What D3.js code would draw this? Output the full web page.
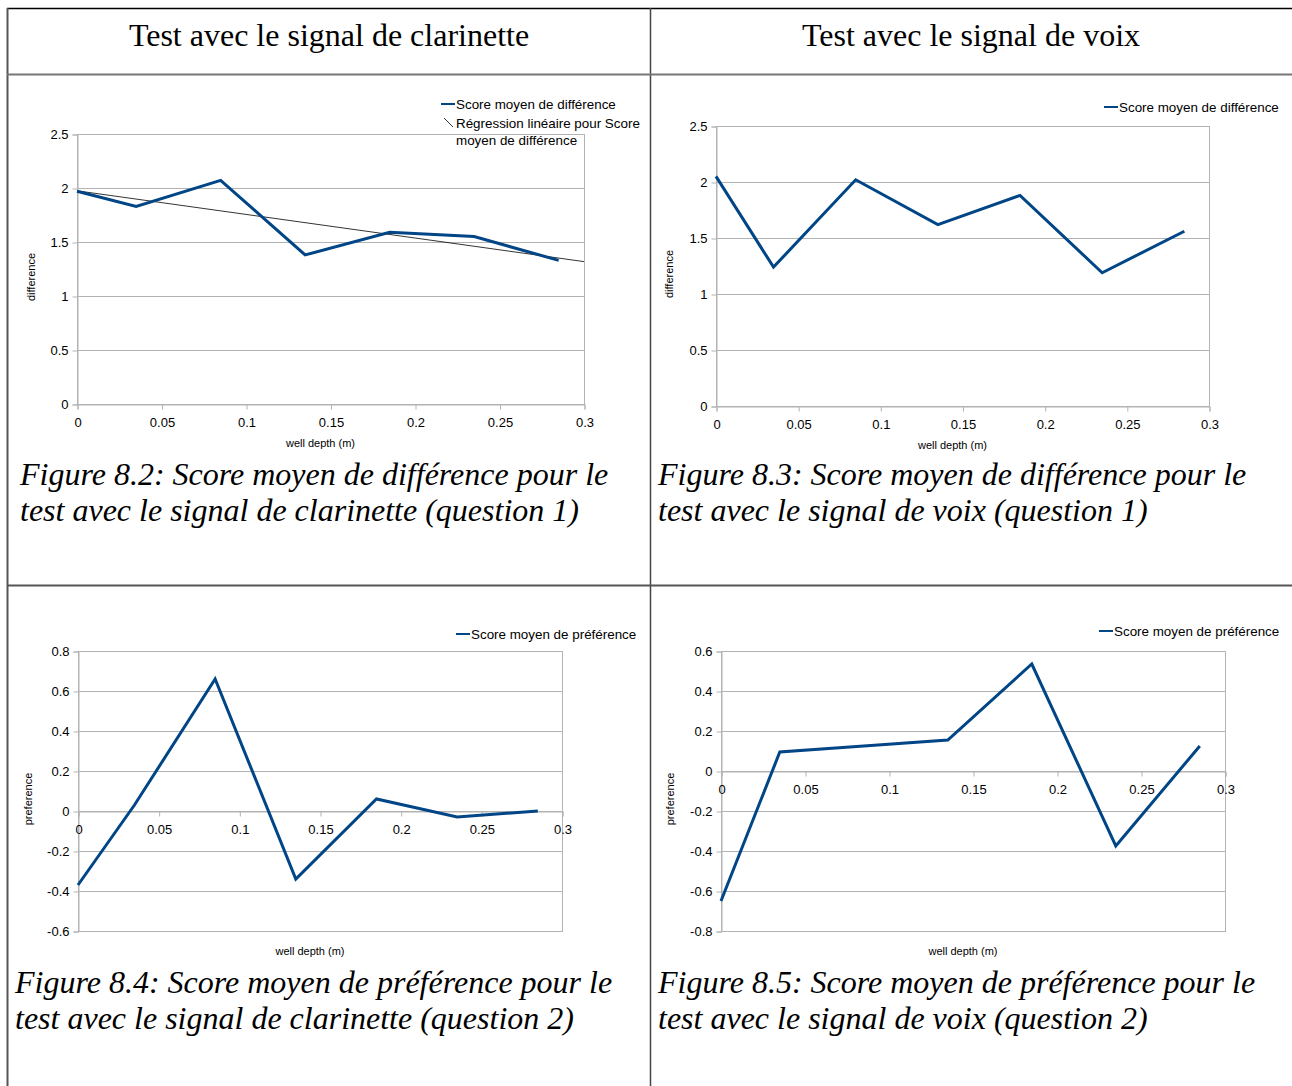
<!DOCTYPE html>
<html>
<head>
<meta charset="utf-8">
<script src="https://cdn.jsdelivr.net/npm/d3@7"></script>
<style>
  body { margin: 0; background: #fff; }
  text { font-family: "Liberation Sans", Arial, sans-serif; }
  .serif { font-family: "Liberation Serif", "Times New Roman", serif; }
</style>
</head>
<body>
<svg id="page" width="1292" height="1086"></svg>
<script>
// well depth (m) of each test condition
var depths = [0, 0.035, 0.085, 0.135, 0.185, 0.235, 0.285];

// mean scores
var diffClarinette = [1.97, 1.83, 2.07, 1.38, 1.59, 1.55, 1.33];
var diffVoix = [2.05, 1.24, 2.02, 1.62, 1.88, 1.19, 1.56];
var prefClarinette = [-0.37, 0.03, 0.66, -0.34, 0.06, -0.03, 0.0];
var prefVoix = [-0.65, 0.095, 0.125, 0.155, 0.535, -0.375, 0.125];

var xTicks = [0, 0.05, 0.1, 0.15, 0.2, 0.25, 0.3];
var diffTicks = [0, 0.5, 1, 1.5, 2, 2.5];
var prefClarTicks = [-0.6, -0.4, -0.2, 0, 0.2, 0.4, 0.6, 0.8];
var prefVoixTicks = [-0.8, -0.6, -0.4, -0.2, 0, 0.2, 0.4, 0.6];

var headers = ['Test avec le signal de clarinette', 'Test avec le signal de voix'];
var captions = [
  ['Figure 8.2: Score moyen de différence pour le', 'test avec le signal de clarinette (question 1)'],
  ['Figure 8.3: Score moyen de différence pour le', 'test avec le signal de voix (question 1)'],
  ['Figure 8.4: Score moyen de préférence pour le', 'test avec le signal de clarinette (question 2)'],
  ['Figure 8.5: Score moyen de préférence pour le', 'test avec le signal de voix (question 2)']
];

var blue = '#004586';
var grid = '#b3b3b3';
var plain = d => String(d); // hyphen minus, like the original labels

var svg = d3.select('#page');

// table frame
svg.append('line').attr('x1', 7).attr('x2', 1292).attr('y1', 8.5).attr('y2', 8.5)
  .attr('stroke', '#000').attr('stroke-width', 1.5);
svg.append('line').attr('x1', 7.5).attr('x2', 7.5).attr('y1', 8).attr('y2', 1086)
  .attr('stroke', '#555').attr('stroke-width', 2);
svg.append('line').attr('x1', 650.5).attr('x2', 650.5).attr('y1', 8).attr('y2', 1086)
  .attr('stroke', '#444').attr('stroke-width', 1.5);
svg.append('line').attr('x1', 7).attr('x2', 1292).attr('y1', 74.5).attr('y2', 74.5)
  .attr('stroke', '#777').attr('stroke-width', 2);
svg.append('line').attr('x1', 7).attr('x2', 1292).attr('y1', 585.5).attr('y2', 585.5)
  .attr('stroke', '#555').attr('stroke-width', 2);

svg.selectAll('text.head')
  .data(headers)
  .enter().append('text')
    .attr('class', 'head serif')
    .attr('x', (d, i) => i === 0 ? 329 : 971)
    .attr('y', 46)
    .attr('text-anchor', 'middle')
    .attr('font-size', 32)
    .text(d => d);

var panels = [
  { values: diffClarinette, ticks: diffTicks, label: 'difference', legend: 'Score moyen de différence',
    box: [77, 584, 134, 404], legendAt: [441, 104], titleX: 31, regression: true, caption: [20, 485] },
  { values: diffVoix, ticks: diffTicks, label: 'difference', legend: 'Score moyen de différence',
    box: [716, 1209, 126, 406], legendAt: [1104, 107], titleX: 669, caption: [658, 485] },
  { values: prefClarinette, ticks: prefClarTicks, label: 'preference', legend: 'Score moyen de préférence',
    box: [78, 562, 651, 931], legendAt: [456, 634], titleX: 28, caption: [15, 993] },
  { values: prefVoix, ticks: prefVoixTicks, label: 'preference', legend: 'Score moyen de préférence',
    box: [721, 1225, 651, 931], legendAt: [1099, 631], titleX: 670, caption: [658, 993] }
];

panels.forEach((p, i) => {
  var [x0, x1, y0, y1] = p.box;
  var x = d3.scaleLinear().domain([0, 0.3]).range([x0, x1]);
  var y = d3.scaleLinear().domain(d3.extent(p.ticks)).range([y1, y0]);
  var zeroY = Math.round(y(0));
  var g = svg.append('g');

  // grid + frame
  g.selectAll('line.grid')
    .data(p.ticks)
    .enter().append('line')
      .attr('x1', x0).attr('x2', x1)
      .attr('y1', d => Math.round(y(d)) + 0.5).attr('y2', d => Math.round(y(d)) + 0.5)
      .attr('stroke', grid);
  g.append('rect')
    .attr('x', x0 + 0.5).attr('y', y0 + 0.5)
    .attr('width', x1 - x0).attr('height', y1 - y0)
    .attr('fill', 'none').attr('stroke', grid);

  // y axis
  var yAxis = g.append('g')
    .attr('transform', 'translate(' + (x0 + 0.5) + ',0.5)')
    .call(d3.axisLeft(y).tickValues(p.ticks).tickSize(5).tickPadding(4).tickFormat(plain));
  // x axis sits on the zero line
  var xAxis = g.append('g')
    .attr('transform', 'translate(0.5,' + (zeroY + 0.5) + ')')
    .call(d3.axisBottom(x).tickValues(xTicks).tickSize(5).tickPadding(8).tickFormat(plain));
  [yAxis, xAxis].forEach(a => {
    a.select('.domain').attr('stroke', grid);
    a.selectAll('.tick line').attr('stroke', grid);
    a.selectAll('.tick text').attr('font-size', 13).attr('fill', '#000')
      .attr('font-family', '"Liberation Sans", Arial, sans-serif');
  });

  // axis titles
  g.append('text')
    .attr('x', (x0 + x1) / 2 - 10).attr('y', Math.max(y1 + 24, zeroY + 43))
    .attr('text-anchor', 'middle').attr('font-size', 11)
    .text('well depth (m)');
  g.append('text')
    .attr('transform', 'translate(' + (p.titleX + 4) + ',' + ((y0 + y1) / 2 + 8) + ') rotate(-90)')
    .attr('text-anchor', 'middle').attr('font-size', 11)
    .text(p.label);

  // regression line for the clarinet difference
  if (p.regression) {
    var mx = d3.mean(depths), my = d3.mean(p.values);
    var slope = d3.sum(depths, (d, k) => (d - mx) * (p.values[k] - my)) /
      d3.sum(depths, d => (d - mx) * (d - mx));
    var b = my - slope * mx;
    g.append('path')
      .datum([0, 0.3])
      .attr('d', d3.line().x(d => x(d)).y(d => y(b + slope * d)))
      .attr('stroke', '#000').attr('stroke-width', 0.8).attr('fill', 'none');
  }

  // series
  g.append('path')
    .datum(p.values)
    .attr('d', d3.line().x((d, k) => x(depths[k])).y(d => y(d)))
    .attr('stroke', blue).attr('stroke-width', 3).attr('fill', 'none');

  // legend
  var [lx, ly] = p.legendAt;
  g.append('line').attr('x1', lx).attr('x2', lx + 14).attr('y1', ly).attr('y2', ly)
    .attr('stroke', blue).attr('stroke-width', 2);
  g.append('text').attr('x', lx + 15).attr('y', ly + 5).attr('font-size', 13.4).text(p.legend);
  if (p.regression) {
    g.append('line').attr('x1', lx + 3).attr('x2', lx + 12).attr('y1', ly + 14).attr('y2', ly + 23)
      .attr('stroke', '#000').attr('stroke-width', 0.8);
    g.append('text').attr('x', lx + 15).attr('y', ly + 24).attr('font-size', 13.4)
      .text('Régression linéaire pour Score');
    g.append('text').attr('x', lx + 15).attr('y', ly + 41).attr('font-size', 13.4)
      .text('moyen de différence');
  }

  // caption
  g.selectAll('text.cap')
    .data(captions[i])
    .enter().append('text')
      .attr('class', 'cap serif')
      .attr('x', p.caption[0])
      .attr('y', (d, k) => p.caption[1] + k * 36)
      .attr('font-size', 32)
      .attr('font-style', 'italic')
      .text(d => d);
});
</script>
</body>
</html>
